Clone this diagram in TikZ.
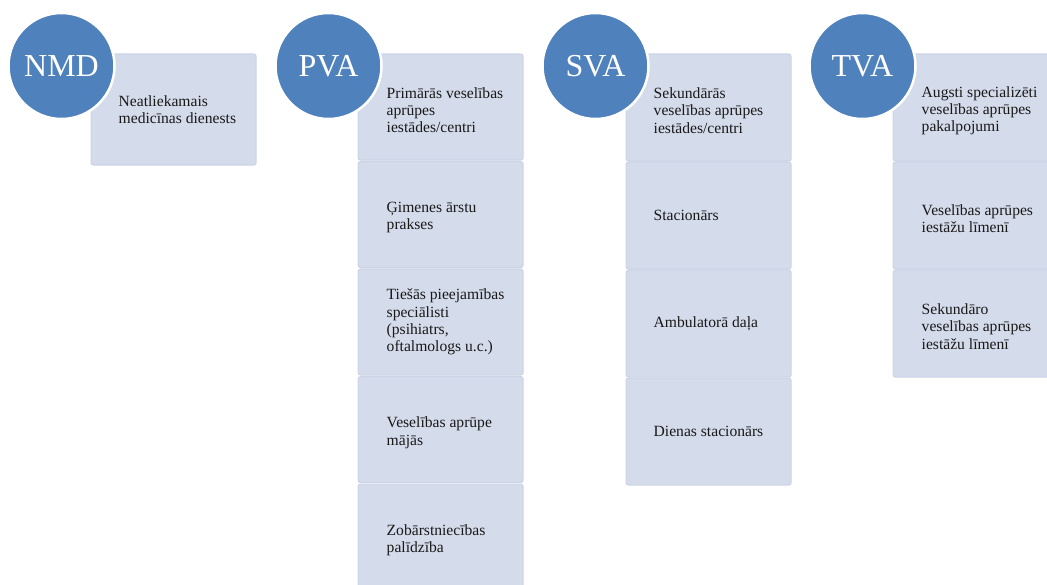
\documentclass[tikz,border=0pt]{standalone}
\usepackage{fontspec}
\setmainfont{Liberation Serif}
\definecolor{circblue}{HTML}{4F81BD}
\definecolor{cellfill}{HTML}{D4DBEA}
\definecolor{celledge}{HTML}{CCD4E6}
\tikzset{
  hub/.style={circle, fill=circblue, draw=white, line width=2.5pt,
    minimum size=106pt, inner sep=0pt, text=white,
    font=\fontsize{32}{32}\selectfont},
  cell/.style={rectangle, rounded corners=2.5pt, fill=cellfill, draw=celledge,
    line width=1.2pt, minimum width=165pt, inner sep=0pt, anchor=north west},
  txt/.style={anchor=west, align=left, inner sep=0pt, text=black!90,
    font=\fontsize{15.6}{17.3}\selectfont}
}
\begin{document}
\begin{tikzpicture}[x=1pt, y=-1pt]
\useasboundingbox (0,0) rectangle (1047,585);
\clip (0,0) rectangle (1047,585);

% NMD column
\node[cell, minimum height=111pt] (n1) at (90.5,53.5) {};
\node[txt] (tn1) at ([xshift=28pt]n1.west) {Neatliekamais\\medicīnas dienests};
\node[hub] (nmd) at (61.5,66) {NMD};

% PVA column
\node[cell, minimum height=106pt] (p1) at (357.5,53.5) {};
\node[cell, minimum height=106pt] (p2) at (357.5,161) {};
\node[cell, minimum height=106pt] (p3) at (357.5,268.5) {};
\node[cell, minimum height=106pt] (p4) at (357.5,376) {};
\node[cell, minimum height=106pt] (p5) at (357.5,483.5) {};
\node[txt] (tp1) at ([xshift=29pt,yshift=-3pt]p1.west) {Primārās veselības\\aprūpes\\iestādes/centri};
\node[txt] (tp2) at ([xshift=29pt,yshift=-3pt]p2.west) {Ģimenes ārstu\\prakses};
\node[txt] (tp3) at ([xshift=29pt]p3.west) {Tiešās pieejamības\\speciālisti\\(psihiatrs,\\oftalmologs u.c.)};
\node[txt] (tp4) at ([xshift=29pt,yshift=-3pt]p4.west) {Veselības aprūpe\\mājās};
\node[txt] (tp5) at ([xshift=29pt,yshift=-3pt]p5.west) {Zobārstniecības\\palīdzība};
\node[hub] (pva) at (328.5,66) {PVA};

% SVA column
\node[cell, minimum height=107pt] (s1) at (625.5,53.5) {};
\node[cell, minimum height=107pt] (s2) at (625.5,161.5) {};
\node[cell, minimum height=107pt] (s3) at (625.5,269.5) {};
\node[cell, minimum height=107pt] (s4) at (625.5,377.5) {};
\node[txt] (ts1) at ([xshift=28pt,yshift=-3pt]s1.west) {Sekundārās\\veselības aprūpes\\iestādes/centri};
\node[txt] (ts2) at ([xshift=28pt]s2.west) {Stacionārs};
\node[txt] (ts3) at ([xshift=28pt]s3.west) {Ambulatorā daļa};
\node[txt] (ts4) at ([xshift=28pt]s4.west) {Dienas stacionārs};
\node[hub] (sva) at (595.5,66) {SVA};

% TVA column
\node[cell, minimum height=107pt] (t1) at (892.5,53.5) {};
\node[cell, minimum height=107pt] (t2) at (892.5,161.5) {};
\node[cell, minimum height=107pt] (t3) at (892.5,269.5) {};
\node[txt] (tt1) at ([xshift=29pt,yshift=-3pt]t1.west) {Augsti specializēti\\veselības aprūpes\\pakalpojumi};
\node[txt] (tt2) at ([xshift=29pt,yshift=-3pt]t2.west) {Veselības aprūpes\\iestāžu līmenī};
\node[txt] (tt3) at ([xshift=29pt,yshift=-3pt]t3.west) {Sekundāro\\veselības aprūpes\\iestāžu līmenī};
\node[hub] (tva) at (862.5,66) {TVA};
\end{tikzpicture}
\end{document}
